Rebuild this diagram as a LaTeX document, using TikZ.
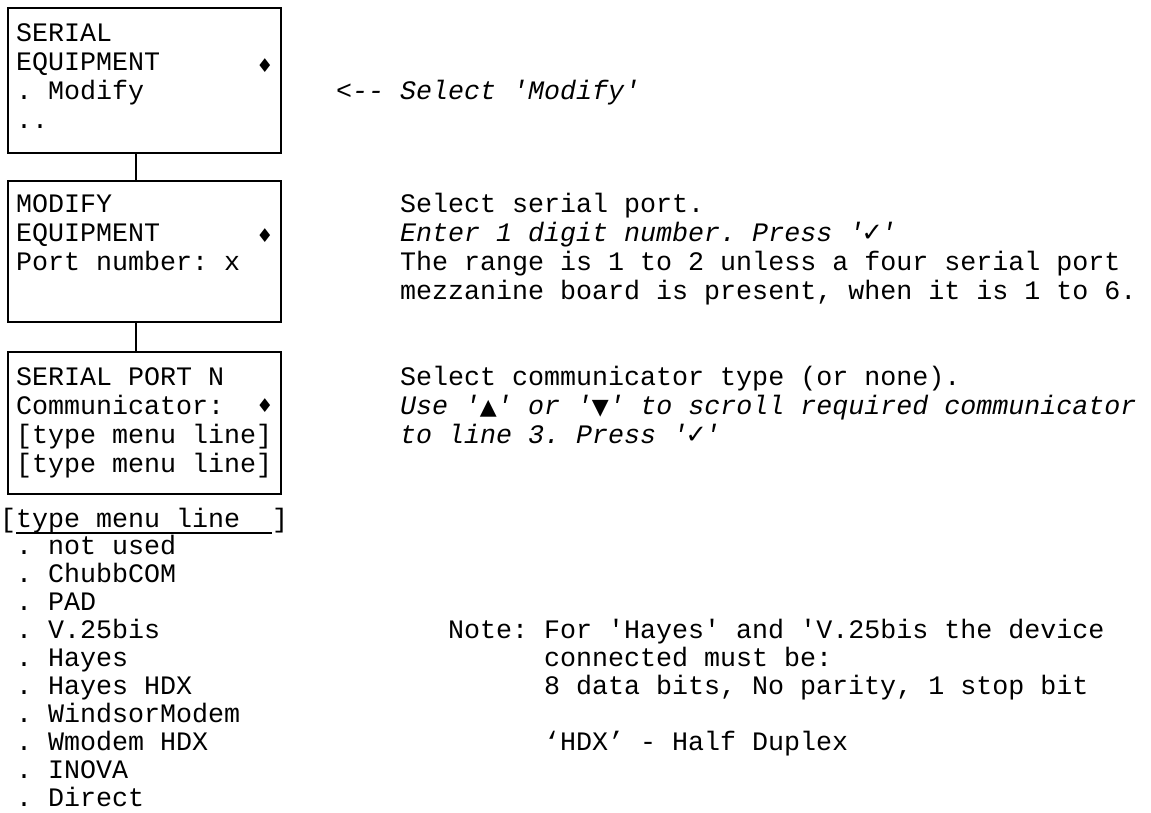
\documentclass[tikz,border=0pt]{standalone}
\usepackage{fontspec}
\setmainfont{Liberation Mono}[Ligatures=TeXOff]
\newfontfamily\symfont{DejaVu Sans}
\newcommand\cellsym[2][19]{\makebox[16pt]{\upshape\symfont\fontsize{#1}{#1}\selectfont #2}}
\newcommand\ck{\cellsym[26]{\bfseries ✓}}
\frenchspacing
\begin{document}
\begin{tikzpicture}[x=1pt,y=-1pt,
  txt/.style={anchor=base west, inner sep=0pt, font=\fontsize{26.67}{29}\selectfont},
  itxt/.style={anchor=base west, inner sep=0pt, font=\fontsize{26.67}{29}\selectfont\itshape},
  frame/.style={draw, line width=1.6pt, anchor=north west, inner sep=0pt, minimum width=273pt},
  link/.style={line width=1.6pt},
  dmd/.style={inner sep=0pt, font=\symfont\fontsize{19}{19}\selectfont}
]
\useasboundingbox (0,0) rectangle (1151,812);

% boxes
\node[frame, minimum height=145pt] (b1) at (7,7) {};
\node[frame, minimum height=141pt] (b2) at (7,180) {};
\node[frame, minimum height=142pt] (b3) at (7,351) {};
\coordinate (cx) at (136,0);
\draw[link] (b1.south -| cx) -- (b2.north -| cx);
\draw[link] (b2.south -| cx) -- (b3.north -| cx);

% box 1 text
\node[txt] (t11) at (16,41) {SERIAL};
\node[txt] (t12) at (16,70) {EQUIPMENT};
\node[txt] (t13) at (16,99) {. Modify};
\node[txt] (t14) at (16,128) {..};
\node[dmd] (d1) at (265,66) {♦};
\node[itxt] (r1) at (336,99) {<-- Select 'Modify'};

% box 2 text
\node[txt] (t21) at (16,212) {MODIFY};
\node[txt] (t22) at (16,241) {EQUIPMENT};
\node[txt] (t23) at (16,270) {Port number: x};
\node[dmd] (d2) at (265,236) {♦};
\node[txt] (r21) at (400,212) {Select serial port.};
\node[itxt] (r22) at (400,241) {Enter 1 digit number. Press '\ck'};
\node[txt] (r23) at (400,270) {The range is 1 to 2 unless a four serial port};
\node[txt] (r24) at (400,299) {mezzanine board is present, when it is 1 to 6.};

% box 3 text
\node[txt] (t31) at (16,385) {SERIAL PORT N};
\node[txt] (t32) at (16,414) {Communicator:};
\node[txt] (t33) at (16,443) {[type menu line]};
\node[txt] (t34) at (16,472) {[type menu line]};
\node[dmd] (d3) at (265,406) {♦};
\node[txt] (r31) at (400,385) {Select communicator type (or none).};
\node[itxt] (r32) at (400,414) {Use '\cellsym[22]{▲}' or '\cellsym[22]{▼}' to scroll required communicator};
\node[itxt] (r33) at (400,443) {to line 3. Press '\ck'};

% menu list
\node[txt] (hdr) at (0,527) {[type menu line~~]};
\coordinate (ul1) at (16,533);
\coordinate (ul2) at (272,533);
\draw[line width=1.2pt] (ul1) -- (ul2);
\foreach \t [count=\i] in {not used, ChubbCOM, PAD, V.25bis, Hayes, Hayes HDX, WindsorModem, Wmodem HDX, INOVA, Direct}
  \node[txt] (item\i) at (16,{554+28*(\i-1)}) {. \t};

% note
\node[txt] (n1) at (448,638) {Note: For 'Hayes' and 'V.25bis the device};
\node[txt] (n2) at (544,666) {connected must be:};
\node[txt] (n3) at (544,694) {8 data bits, No parity, 1 stop bit};
\node[txt] (n4) at (544,750) {‘HDX’ - Half Duplex};
\end{tikzpicture}
\end{document}
